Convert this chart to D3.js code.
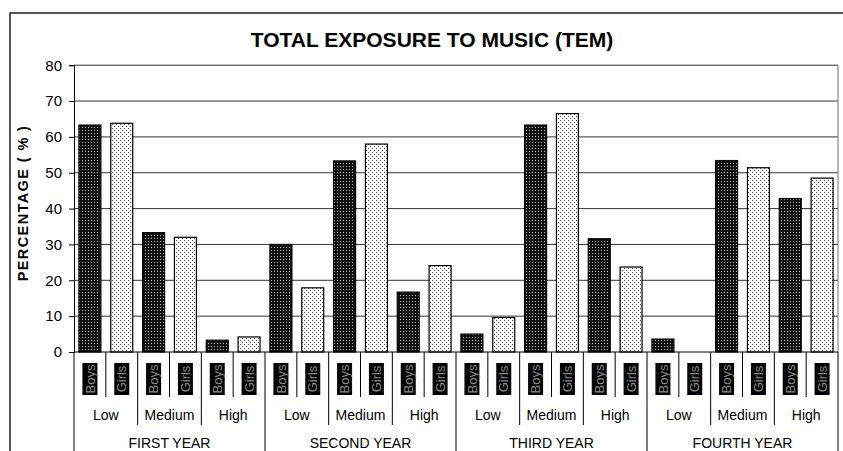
<!DOCTYPE html>
<html>
<head>
<meta charset="utf-8">
<script src="https://cdn.jsdelivr.net/npm/d3@7"></script>
<style>
  html, body { margin: 0; padding: 0; background: #fff; }
  svg { display: block; font-family: "Liberation Sans", Arial, sans-serif; }
</style>
</head>
<body>
<svg id="chart" width="843" height="451"></svg>
<script>
const title = "TOTAL EXPOSURE TO MUSIC (TEM)";
const yTitle = "PERCENTAGE ( % )";
const years = ["FIRST YEAR", "SECOND YEAR", "THIRD YEAR", "FOURTH YEAR"];
const levels = ["Low", "Medium", "High"];
const genders = ["Boys", "Girls"];
// values per year x level (Low, Medium, High)
const boys  = [63.3, 33.3, 3.3,  30.0, 53.3, 16.7,  5.0, 63.3, 31.6,  3.6, 53.4, 42.8];
const girls = [63.8, 32.0, 4.2,  17.9, 58.0, 24.1,  9.6, 66.5, 23.7,  0.0, 51.4, 48.5];
const yTicks = [0, 10, 20, 30, 40, 50, 60, 70, 80];

// build flat category list
const cats = [];
years.forEach((yr, yi) => levels.forEach((lv, li) => genders.forEach((g, gi) => {
  const k = yi * 3 + li;
  cats.push({ id: yr + "|" + lv + "|" + g, year: yr, level: lv, gender: g, value: g === "Boys" ? boys[k] : girls[k] });
})));

const svg = d3.select("#chart");
const X0 = 74, X1 = 838, Y0 = 352, Y1 = 65.2;

// outer frame
svg.append("rect").attr("x", 10).attr("y", 13).attr("width", 840).attr("height", 460)
  .attr("fill", "none").attr("stroke", "#222").attr("stroke-width", 1.5);

// patterns
const defs = svg.append("defs");
const pb = defs.append("pattern").attr("id", "pBoys").attr("patternUnits", "userSpaceOnUse")
  .attr("width", 3).attr("height", 3);
pb.append("rect").attr("width", 3).attr("height", 3).attr("fill", "#111");
pb.append("rect").attr("x", 1).attr("y", 1).attr("width", 1).attr("height", 1).attr("fill", "#bbb");
const pg = defs.append("pattern").attr("id", "pGirls").attr("patternUnits", "userSpaceOnUse")
  .attr("width", 4).attr("height", 4);
pg.append("rect").attr("width", 4).attr("height", 4).attr("fill", "#fff");
pg.append("rect").attr("x", 0).attr("y", 0).attr("width", 1).attr("height", 1).attr("fill", "#444");
pg.append("rect").attr("x", 2).attr("y", 2).attr("width", 1).attr("height", 1).attr("fill", "#444");

const y = d3.scaleLinear().domain([0, 80]).range([Y0, Y1]);
const xCat = d3.scaleBand().domain(cats.map(d => d.id)).range([X0, X1]).paddingInner(0).paddingOuter(0);
const xBar = d3.scaleBand().domain(cats.map(d => d.id)).range([X0, X1]).paddingInner(0.31).paddingOuter(0.155);
const step = xCat.step();

// gridlines
svg.append("g").selectAll("line").data(yTicks.filter(t => t > 0)).join("line")
  .attr("x1", X0).attr("x2", X1).attr("y1", d => y(d)).attr("y2", d => y(d))
  .attr("stroke", "#333").attr("stroke-width", 1);

// right plot border
svg.append("line").attr("x1", X1).attr("x2", X1).attr("y1", Y1).attr("y2", Y0)
  .attr("stroke", "#777").attr("stroke-width", 1);

// bars
svg.append("g").selectAll("rect").data(cats.filter(d => d.value > 0)).join("rect")
  .attr("x", d => xBar(d.id)).attr("width", xBar.bandwidth())
  .attr("y", d => y(d.value)).attr("height", d => Y0 - y(d.value))
  .attr("fill", d => d.gender === "Boys" ? "url(#pBoys)" : "url(#pGirls)")
  .attr("stroke", "#000").attr("stroke-width", 1.2);

// y axis
const yAxis = d3.axisLeft(y).tickValues(yTicks).tickSize(5).tickPadding(7);
const ya = svg.append("g").attr("transform", `translate(${X0},0)`).call(yAxis);
ya.select(".domain").attr("stroke", "#000");
ya.selectAll(".tick line").attr("stroke", "#000");
ya.selectAll(".tick text").attr("font-size", 15).attr("fill", "#000")
  .attr("font-family", "'Liberation Sans', Arial, sans-serif");

// zero axis
svg.append("line").attr("x1", X0).attr("x2", X1).attr("y1", Y0).attr("y2", Y0)
  .attr("stroke", "#000").attr("stroke-width", 1);

// category separators (multi-level)
const bounds = d3.range(cats.length + 1);
svg.append("g").selectAll("line").data(bounds).join("line")
  .attr("x1", i => X0 + i * step).attr("x2", i => X0 + i * step)
  .attr("y1", Y0)
  .attr("y2", i => i % 6 === 0 ? 460 : (i % 2 === 0 ? 425 : 397))
  .attr("stroke", "#000").attr("stroke-width", 1);

// gender labels in black boxes
const gl = svg.append("g").selectAll("g").data(cats).join("g")
  .attr("transform", d => `translate(${xCat(d.id) + step / 2},379)`);
gl.append("rect").attr("x", -7.5).attr("y", -16).attr("width", 15).attr("height", 32).attr("fill", "#000");
gl.append("text").attr("transform", "rotate(-90)").attr("text-anchor", "middle")
  .attr("dy", "0.36em").attr("font-size", 13).attr("fill", "#8a8a8a").text(d => d.gender);

// level labels
const lvData = [];
years.forEach(yr => levels.forEach(lv => lvData.push({ year: yr, level: lv })));
svg.append("g").selectAll("text").data(lvData).join("text")
  .attr("x", d => xCat(d.year + "|" + d.level + "|Boys") + step)
  .attr("y", 420).attr("text-anchor", "middle").attr("font-size", 14).attr("fill", "#000")
  .text(d => d.level);

// year labels
svg.append("g").selectAll("text").data(years).join("text")
  .attr("x", d => xCat(d + "|Medium|Boys") + step)
  .attr("y", 447.5).attr("text-anchor", "middle").attr("font-size", 14).attr("fill", "#000")
  .text(d => d);

// title
svg.append("text").attr("x", 432).attr("y", 47).attr("text-anchor", "middle")
  .attr("font-size", 21).attr("font-weight", "bold").text(title);

// y title
svg.append("text").attr("transform", "translate(28,203) rotate(-90)").attr("text-anchor", "middle")
  .attr("font-size", 14.5).attr("font-weight", "bold").attr("letter-spacing", 1.4)
  .text(yTitle);
</script>
</body>
</html>
